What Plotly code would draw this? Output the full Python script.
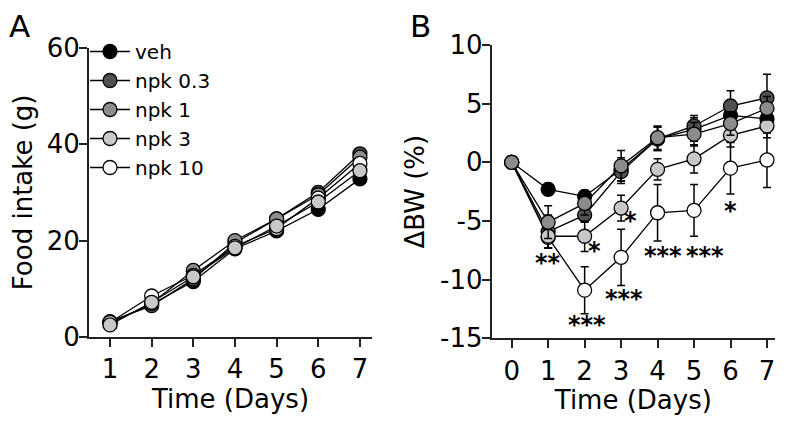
import plotly.graph_objects as go

# ---------------- data ----------------
series_names = ["veh", "npk 0.3", "npk 1", "npk 3", "npk 10"]
series_colors = ["#000000", "#505050", "#8c8c8c", "#c8c8c8", "#ffffff"]

days_a = [1, 2, 3, 4, 5, 6, 7]
food_veh = [3.0, 6.8, 11.5, 18.3, 22.0, 26.5, 32.8]
food_npk03 = [3.2, 6.5, 12.0, 19.5, 24.5, 30.0, 38.0]
food_npk1 = [2.8, 7.0, 13.8, 20.0, 24.5, 29.5, 37.3]
food_npk3 = [2.5, 7.2, 12.5, 18.5, 23.0, 28.0, 34.5]
food_npk10 = [3.0, 8.5, 12.8, 18.8, 22.5, 28.8, 36.0]

days_b = [0, 1, 2, 3, 4, 5, 6, 7]
bw_veh = [0, -2.3, -2.9, -0.6, 2.0, 2.8, 4.0, 3.7]
bw_npk03 = [0, -5.9, -4.5, -0.8, 2.0, 3.1, 4.8, 5.5]
bw_npk1 = [0, -5.1, -3.5, -0.3, 2.1, 2.4, 3.3, 4.6]
bw_npk3 = [0, -6.3, -6.3, -3.9, -0.6, 0.3, 2.3, 3.1]
bw_npk10 = [0, -6.4, -10.9, -8.1, -4.3, -4.1, -0.5, 0.2]

err_veh = [0, 0.5, 0.5, 1.0, 1.0, 1.0, 1.0, 1.2]
err_npk03 = [0, 1.4, 0.6, 1.0, 1.0, 0.9, 1.3, 2.0]
err_npk1 = [0, 1.4, 1.0, 1.3, 1.0, 1.0, 1.0, 1.0]
err_npk3 = [0, 1.0, 1.3, 1.1, 0.9, 1.2, 1.0, 1.0]
err_npk10 = [0, 0.9, 2.0, 2.4, 2.4, 2.2, 2.2, 2.35]

ticks_a_y = [0, 20, 40, 60]
ticks_b_y = [-15, -10, -5, 0, 5, 10]
ticks_b_y_text = ["-15", "-10", "-5", "0", "5", "10"]

sig_labels = ["**", "*", "***", "*", "***", "***", "***", "*"]
sig_x = [0.99, 2.27, 2.07, 3.27, 3.09, 4.16, 5.3, 6.0]
sig_y = [-8.6, -7.55, -13.85, -5.0, -11.66, -7.96, -7.96, -4.13]

food_series = [food_veh, food_npk03, food_npk1, food_npk3, food_npk10]
bw_series = [bw_veh, bw_npk03, bw_npk1, bw_npk3, bw_npk10]
err_series = [err_veh, err_npk03, err_npk1, err_npk3, err_npk10]

FONT = "DejaVu Sans, sans-serif"
W, H = 788, 424
OFF = 8  # page body margin offset


def xdom(p0, p1):
    return [(p0 - OFF) / W, (p1 - OFF) / W]


def ydom(top, bottom):
    return [(H - (bottom - OFF)) / H, (H - (top - OFF)) / H]


fig = go.Figure()

order_a = [0, 1, 2, 4, 3]
order_b = [0, 1, 4, 3, 2]

for i in order_a:
    fig.add_trace(go.Scatter(
        x=days_a, y=food_series[i], name=series_names[i], mode="lines+markers",
        line=dict(color="black", width=1.3),
        marker=dict(size=14, color=series_colors[i], line=dict(color="black", width=1.3)),
        xaxis="x", yaxis="y", legendrank=i + 1, showlegend=True,
    ))

for i in order_b:
    fig.add_trace(go.Scatter(
        x=days_b, y=bw_series[i], name=series_names[i], mode="lines+markers",
        line=dict(color="black", width=1.3),
        marker=dict(size=14, color=series_colors[i], line=dict(color="black", width=1.3)),
        error_y=dict(type="data", array=err_series[i], color="black", thickness=1.5, width=4),
        xaxis="x2", yaxis="y2", showlegend=False,
    ))

axis_common = dict(showline=True, linecolor="#222", linewidth=2, ticks="outside",
                   ticklen=8, tickwidth=2, tickcolor="#222", showgrid=False, zeroline=False,
                   automargin=False,
                   tickfont=dict(family=FONT, size=26, color="black"))

for lab, x, y in zip(sig_labels, sig_x, sig_y):
    fig.add_annotation(x=x, y=y, xref="x2", yref="y2", text=lab, showarrow=False,
                       font=dict(family=FONT, size=24, color="black", weight="bold"),
                       xanchor="center", yanchor="middle")

fig.add_annotation(x=0.0, y=1.0, xref="paper", yref="paper", text="A",
                   showarrow=False, font=dict(family=FONT, size=31, color="black"),
                   xanchor="left", yanchor="top", borderpad=0, yshift=1)
fig.add_annotation(x=(420 - OFF) / W, y=1.0, xref="paper", yref="paper", text="B",
                   showarrow=False, font=dict(family=FONT, size=31, color="black"),
                   xanchor="center", yanchor="top", borderpad=0, yshift=1)

title_font = dict(family=FONT, size=26, color="black")
fig.update_layout(
    width=W, height=H, margin=dict(l=0, r=0, t=0, b=0, autoexpand=False),
    paper_bgcolor="white", plot_bgcolor="white",
    font=dict(family=FONT, color="black"),
    xaxis=dict(domain=xdom(89, 372), range=[0.496, 7.29], tickvals=days_a,
               title=dict(text="Time (Days)", font=title_font, standoff=2),
               anchor="y", **axis_common),
    yaxis=dict(domain=ydom(47.7, 337), range=[0, 60], tickvals=ticks_a_y,
               ticklabelstandoff=-6,
               title=dict(text="Food intake (g)", font=title_font, standoff=14),
               anchor="x", **axis_common),
    xaxis2=dict(domain=xdom(491.7, 775), range=[-0.548, 7.22], tickvals=days_b,
                title=dict(text="Time (Days)", font=title_font, standoff=2),
                anchor="y2", **axis_common),
    yaxis2=dict(domain=ydom(45, 338.3), range=[-15, 10], tickvals=ticks_b_y, ticktext=ticks_b_y_text,
                ticklabelstandoff=-6,
                title=dict(text="ΔBW (%)", font=title_font, standoff=8),
                anchor="x2", **axis_common),
    legend=dict(x=(85 - OFF) / W, y=0.9434, xanchor="left", yanchor="top", bgcolor="rgba(0,0,0,0)",
                font=dict(family=FONT, size=20, color="black"), tracegroupgap=0,
                itemwidth=40),
)

fig.write_html("out.html")
